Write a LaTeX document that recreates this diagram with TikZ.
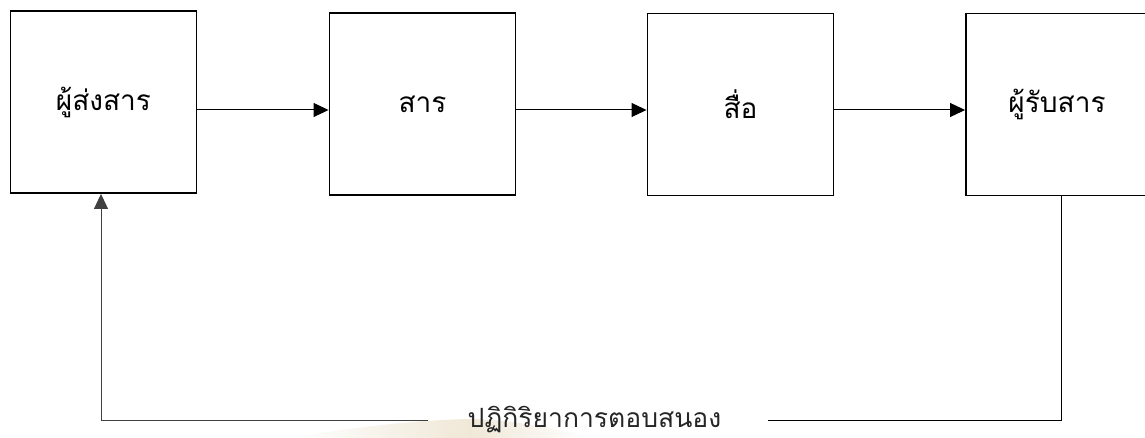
\documentclass[tikz,border=0pt]{standalone}
\usepackage{fontspec}
\newfontfamily\thaifont[Script=Thai]{Loma}
\usetikzlibrary{arrows.meta,calc}
\definecolor{swoosh}{RGB}{236,226,205}
\begin{document}
\begin{tikzpicture}[x=1pt,y=-1pt,
  blockbox/.style={draw, line width=1.9pt, minimum width=186pt, minimum height=182pt,
    inner sep=0pt, font=\thaifont\fontsize{28}{32}\selectfont},
  flow/.style={line width=1pt, -{Triangle[length=15pt,width=14pt]}},
  back/.style={line width=1pt}]
\useasboundingbox (0,0) rectangle (1145,438);
% faint decorative swoosh behind the feedback label
\shade[left color=white, right color=swoosh, opacity=0.8]
  (290,438) .. controls (360,426) and (420,420) .. (470,419) -- (470,438) -- cycle;
\shade[left color=swoosh, right color=white, opacity=0.8]
  (470,419) .. controls (520,420) and (560,430) .. (590,438) -- (470,438) -- cycle;
\node[blockbox] (sender) at (103.5,102) {ผู้ส่งสาร};
\node[blockbox] (msg) at (422.5,104) {สาร};
\node[blockbox] (chan) at (740.5,104.5) {สื่อ};
\node[blockbox, minimum width=182pt] (recv) at (1057,104.5) {ผู้รับสาร};
\draw[flow] (sender.east |- 0,110) -- (msg.west |- 0,110);
\draw[flow] (msg.east |- 0,110) -- (chan.west |- 0,110);
\draw[flow] (chan.east |- 0,110) -- (recv.west |- 0,110);
\node[font=\thaifont\fontsize{26.5}{30}\selectfont, text=black!85, inner sep=0pt,
  anchor=base] (resp) at (594.5,427) {ปฏิกิริยาการตอบสนอง};
\coordinate (rc) at (1061,420);
\coordinate (lc) at (101,420);
\coordinate (rgap) at ($(resp.east)+(47,0)$);
\coordinate (lgap) at ($(resp.west)+(-40,0)$);
\draw[back] (recv.south -| rc) -- (rc) -- (rgap |- rc);
\draw[flow, draw=black!75] (lgap |- lc) -- (lc) -- (lc |- sender.south);
\end{tikzpicture}
\end{document}
